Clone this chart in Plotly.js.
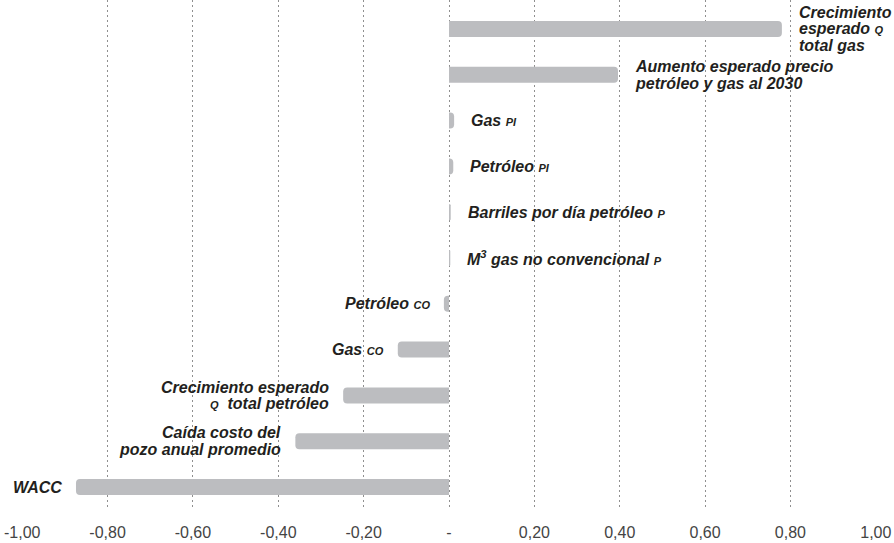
<!DOCTYPE html>
<html>
<head>
<meta charset="utf-8">
<script src="https://cdn.plot.ly/plotly-3.0.1.min.js"></script>
<style>html,body{margin:0;padding:0;background:#fff;}#chart{width:894px;height:543px;}</style>
</head>
<body>
<div id="chart"></div>
<script>
// Categories (bottom to top)
const categories = [
  "WACC",
  "Caída costo del pozo anual promedio",
  "Crecimiento esperado Q total petróleo",
  "Gas CO",
  "Petróleo CO",
  "M3 gas no convencional P",
  "Barriles por día petróleo P",
  "Petróleo PI",
  "Gas PI",
  "Aumento esperado precio petróleo y gas al 2030",
  "Crecimiento esperado Q total gas"
];
const values = [-0.874, -0.36, -0.248, -0.12, -0.012, 0.003, 0.004, 0.01, 0.012, 0.396, 0.78];
const labelLines = [
  ["WACC"],
  ["Caída costo del", "pozo anual promedio"],
  ["Crecimiento esperado", "<span style=\"font-size:11px\">Q</span>  total petróleo"],
  ["Gas <span style=\"font-size:11px\">CO</span>"],
  ["Petróleo <span style=\"font-size:11px\">CO</span>"],
  ["M<sup>3</sup> gas no convencional <span style=\"font-size:11px\">P</span>"],
  ["Barriles por día petróleo <span style=\"font-size:11px\">P</span>"],
  ["Petróleo <span style=\"font-size:11px\">PI</span>"],
  ["Gas <span style=\"font-size:11px\">PI</span>"],
  ["Aumento esperado precio", "petróleo y gas al 2030"],
  ["Crecimiento", "esperado <span style=\"font-size:11px\">Q</span>", "total gas"]
];
const tickVals = [-1, -0.8, -0.6, -0.4, -0.2, 0, 0.2, 0.4, 0.6, 0.8, 1];
const tickText = ["-1,00", "-0,80", "-0,60", "-0,40", "-0,20", "-", "0,20", "0,40", "0,60", "0,80", "1,00"];

const FONT = "Liberation Sans, Arial, Helvetica, sans-serif";
const annotations = [];
categories.forEach((c, i) => {
  const v = values[i];
  const lines = labelLines[i];
  const n = lines.length;
  lines.forEach((ln, j) => {
    annotations.push({
      x: v, y: c, xref: 'x', yref: 'y',
      text: '<b><i>' + ln + '</i></b>',
      showarrow: false,
      xanchor: v >= 0 ? 'left' : 'right',
      yanchor: 'middle',
      align: v >= 0 ? 'left' : 'right',
      xshift: v >= 0 ? 15 : -12,
      yshift: ((n - 1) / 2 - j) * 16.5,
      font: {family: FONT, size: 16, color: '#231f20'}
    });
  });
});

const trace = {
  type: 'bar', orientation: 'h',
  x: values, y: categories,
  width: 0.35,
  marker: {color: '#bcbdc0', cornerradius: 4},
  hoverinfo: 'none'
};

const layout = {
  width: 894, height: 543,
  margin: {l: 22, r: 18, t: 0, b: 33},
  paper_bgcolor: '#fff', plot_bgcolor: '#fff',
  showlegend: false,
  xaxis: {
    range: [-1.0005, 1.0005],
    tickvals: tickVals, ticktext: tickText,
    showgrid: true, gridcolor: '#8f8f8f', gridwidth: 1, griddash: '2px,3px',
    zeroline: false, showline: false, ticks: '',
    ticklabelstandoff: 11,
    tickfont: {family: FONT, size: 16, color: '#444'},
    fixedrange: true
  },
  yaxis: {
    type: 'category', categoryorder: 'array', categoryarray: categories,
    range: [-0.502, 10.633],
    showticklabels: false, showgrid: false, zeroline: false, ticks: '',
    fixedrange: true
  },
  annotations: annotations
};

Plotly.newPlot('chart', [trace], layout, {displayModeBar: false, staticPlot: true});
</script>
</body>
</html>
